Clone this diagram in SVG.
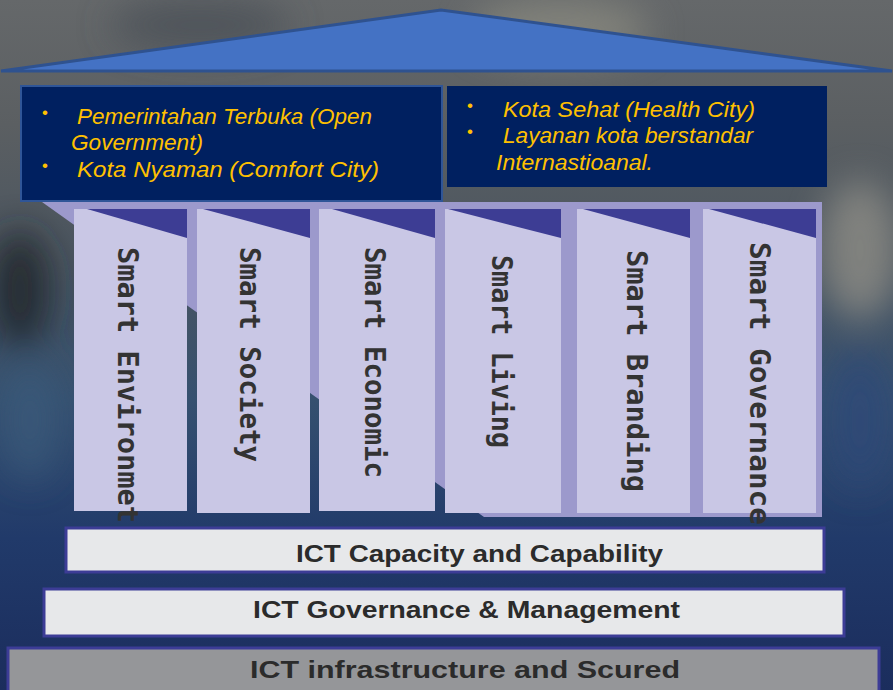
<svg xmlns="http://www.w3.org/2000/svg" width="893" height="690" viewBox="0 0 893 690">
  <defs>
    <linearGradient id="bg" x1="0" y1="0" x2="0" y2="1">
      <stop offset="0" stop-color="#65686a"/>
      <stop offset="0.18" stop-color="#5b5f62"/>
      <stop offset="0.38" stop-color="#4a5560"/>
      <stop offset="0.58" stop-color="#35506f"/>
      <stop offset="0.78" stop-color="#213a6a"/>
      <stop offset="1" stop-color="#1b2d5d"/>
    </linearGradient>
    <filter id="blur" x="-50%" y="-50%" width="200%" height="200%">
      <feGaussianBlur stdDeviation="18"/>
    </filter>
    <style>
      .box { fill: #002060; }
      .yel { font-family: "Liberation Sans", Arial, sans-serif; font-style: italic; font-size: 22px; fill: #ffc000; }
      .bul { font-family: "Liberation Sans", Arial, sans-serif; font-size: 17px; fill: #ffc000; }
      .pillar { fill: #c9c7e5; }
      .cap { fill: #3d3d94; }
      .ptxt { font-family: "DejaVu Sans Mono", monospace; font-weight: bold; font-size: 28px; fill: #333333; }
      .bar { stroke: #3c3c96; stroke-width: 3; }
      .btxt { font-family: "Liberation Sans", Arial, sans-serif; font-weight: bold; font-size: 24px; fill: #2b2b2b; }
    </style>
  </defs>

  <g id="background">
    <rect x="0" y="0" width="893" height="690" fill="url(#bg)"/>
    <g filter="url(#blur)" opacity="0.8">
      <ellipse cx="860" cy="250" rx="40" ry="70" fill="#8e8d86"/>
      <ellipse cx="20" cy="290" rx="30" ry="60" fill="#1e2428"/>
      <ellipse cx="30" cy="420" rx="30" ry="60" fill="#3a5a7a"/>
      <ellipse cx="560" cy="30" rx="90" ry="30" fill="#8a8a80"/>
      <ellipse cx="200" cy="25" rx="90" ry="25" fill="#4a5056"/>
      <ellipse cx="860" cy="420" rx="35" ry="70" fill="#2e4a78"/>
    </g>
  </g>

  <g id="roof">
    <polygon points="1,71 441,10 892,71" fill="#4472c4" stroke="#2f528f" stroke-width="3" stroke-linejoin="miter"/>
  </g>

  <g id="box-left">
    <rect class="box" x="21" y="86" width="421" height="115" stroke="#2f5597" stroke-width="2"/>
    <text class="bul" x="42" y="118">•</text>
    <text class="yel" x="77" y="124" textLength="295" lengthAdjust="spacingAndGlyphs">Pemerintahan Terbuka (Open</text>
    <text class="yel" x="71" y="150" textLength="132" lengthAdjust="spacingAndGlyphs">Government)</text>
    <text class="bul" x="42" y="171">•</text>
    <text class="yel" x="77" y="177" textLength="302" lengthAdjust="spacingAndGlyphs">Kota Nyaman (Comfort City)</text>
  </g>

  <g id="box-right">
    <rect class="box" x="447" y="86" width="380" height="101"/>
    <text class="bul" x="467" y="111">•</text>
    <text class="yel" x="503" y="117" textLength="252" lengthAdjust="spacingAndGlyphs">Kota Sehat (Health City)</text>
    <text class="bul" x="467" y="137">•</text>
    <text class="yel" x="503" y="143" textLength="250" lengthAdjust="spacingAndGlyphs">Layanan kota berstandar</text>
    <text class="yel" x="496" y="170" textLength="157" lengthAdjust="spacingAndGlyphs">Internastioanal.</text>
  </g>

  <g id="pillar-backing">
    <polygon points="42,202 822,202 822,517 484,517" fill="#9c99cc"/>
  </g>

  <g id="pillar-environment">
    <rect class="pillar" x="74" y="209" width="113" height="302"/>
    <polygon class="cap" points="87,209 187,209 187,238"/>
    <text class="ptxt" x="118" y="247" transform="rotate(90 118 247)" textLength="276" lengthAdjust="spacingAndGlyphs">Smart Environmet</text>
  </g>

  <g id="pillar-society">
    <rect class="pillar" x="197" y="209" width="113" height="304"/>
    <polygon class="cap" points="203,209 310,209 310,238"/>
    <text class="ptxt" x="240" y="247" transform="rotate(90 240 247)" textLength="215" lengthAdjust="spacingAndGlyphs">Smart Society</text>
  </g>

  <g id="pillar-economic">
    <rect class="pillar" x="319" y="209" width="116" height="302"/>
    <polygon class="cap" points="332,209 435,209 435,238"/>
    <text class="ptxt" x="365" y="247" transform="rotate(90 365 247)" textLength="231" lengthAdjust="spacingAndGlyphs">Smart Economic</text>
  </g>

  <g id="pillar-living">
    <rect class="pillar" x="445" y="209" width="116" height="304"/>
    <polygon class="cap" points="448,209 561,209 561,238"/>
    <text class="ptxt" x="492" y="255" transform="rotate(90 492 255)" textLength="193" lengthAdjust="spacingAndGlyphs">Smart Living</text>
  </g>

  <g id="pillar-branding">
    <rect class="pillar" x="577" y="209" width="113" height="304"/>
    <polygon class="cap" points="583,209 690,209 690,238"/>
    <text class="ptxt" x="627" y="250" transform="rotate(90 627 250)" textLength="242" lengthAdjust="spacingAndGlyphs">Smart Branding</text>
  </g>

  <g id="pillar-governance">
    <rect class="pillar" x="703" y="209" width="113" height="304"/>
    <polygon class="cap" points="709,209 816,209 816,238"/>
    <text class="ptxt" x="750" y="242" transform="rotate(90 750 242)" textLength="283" lengthAdjust="spacingAndGlyphs">Smart Governance</text>
  </g>

  <g id="bar-capacity">
    <rect class="bar" x="66" y="528" width="758" height="44" fill="#e7e8ea"/>
    <text class="btxt" x="296" y="562" textLength="367" lengthAdjust="spacingAndGlyphs">ICT Capacity and Capability</text>
  </g>

  <g id="bar-governance">
    <rect class="bar" x="44" y="589" width="800" height="47" fill="#e7e8ea"/>
    <text class="btxt" x="253" y="618" textLength="427" lengthAdjust="spacingAndGlyphs">ICT Governance &amp; Management</text>
  </g>

  <g id="bar-infrastructure">
    <rect class="bar" x="8" y="648" width="871" height="50" fill="#959699"/>
    <text class="btxt" x="250" y="678" textLength="430" lengthAdjust="spacingAndGlyphs">ICT infrastructure and Scured</text>
  </g>

  <g id="connectors"/>
</svg>
